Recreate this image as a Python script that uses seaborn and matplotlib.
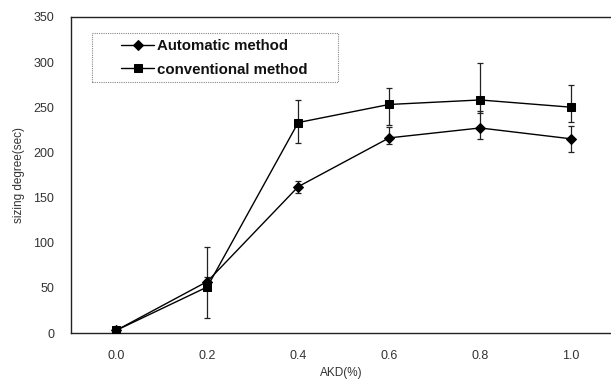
import numpy as np
import pandas as pd
import matplotlib
matplotlib.use('Agg')
import matplotlib.pyplot as plt
from matplotlib.patches import Rectangle
import seaborn as sns

sns.set_style('white')
plt.rcParams['font.family'] = ['Liberation Sans', 'DejaVu Sans']

# data
akd = [0.0, 0.2, 0.4, 0.6, 0.8, 1.0]
auto_mean = [3, 57, 162, 216, 227, 215]
auto_low = [1, 52, 155, 209, 215, 200]
auto_high = [5, 62, 168, 228, 246, 229]
conv_mean = [3, 51, 233, 253, 258, 250]
conv_low = [1, 17, 210, 230, 244, 234]
conv_high = [5, 95, 258, 271, 299, 275]

df = pd.DataFrame({
    'AKD': akd * 2,
    'degree': auto_mean + conv_mean,
    'method': ['Automatic method'] * 6 + ['conventional method'] * 6,
})

fig = plt.figure(figsize=(6.11, 3.83), dpi=100)
ax = fig.add_axes([0.116, 0.1305, 0.884, 0.8255])

# error bars first so markers sit on top
for m, lo, hi in [(auto_mean, auto_low, auto_high), (conv_mean, conv_low, conv_high)]:
    m = np.array(m)
    yerr = [m - np.array(lo), np.array(hi) - m]
    ax.errorbar(akd, m, yerr=yerr, fmt='none', ecolor='#222222', elinewidth=0.9,
                capsize=2.5, capthick=0.9, zorder=2)

sns.lineplot(data=df, x='AKD', y='degree', hue='method', style='method',
             markers={'Automatic method': 'D', 'conventional method': 's'},
             dashes=False, palette=['black', 'black'], linewidth=1.0,
             markersize=5.5, markeredgecolor='black', ax=ax, zorder=3)

ax.set_xlim(-0.1, 1.088)
ax.set_ylim(0, 350)
ax.set_xticks(akd)
ax.set_xticklabels(['0.0', '0.2', '0.4', '0.6', '0.8', '1.0'])
ax.set_yticks(range(0, 351, 50))
ax.tick_params(axis='both', direction='in', length=2, width=0.6, labelsize=9,
               labelcolor='#333333')
ax.tick_params(axis='y', pad=12)
ax.tick_params(axis='x', pad=12)
ax.spines['right'].set_visible(False)
for s in ['left', 'bottom', 'top']:
    ax.spines[s].set_color('#222222')
    ax.spines[s].set_linewidth(1.0)

ax.set_xlabel('AKD(%)', fontsize=8.5, color='#333333', labelpad=4)
ax.set_ylabel('sizing degree(sec)', fontsize=8.5, color='#333333', labelpad=6)

# legend without its own frame, dotted box drawn around it
leg = ax.legend(loc='upper left', bbox_to_anchor=(0.093, 0.93), frameon=False,
                fontsize=10.8, handlelength=2.2, borderpad=0, borderaxespad=0,
                labelspacing=0.65, handletextpad=0.2)
for t in leg.get_texts():
    t.set_fontweight('bold')
    t.set_color('#111111')
ax.add_patch(Rectangle((0.039, 0.794), 0.456, 0.155, transform=ax.transAxes,
                       fill=False, edgecolor='#888888', linewidth=0.8,
                       linestyle=(0, (1, 1)), zorder=4))

fig.savefig('out.png', dpi=100)
